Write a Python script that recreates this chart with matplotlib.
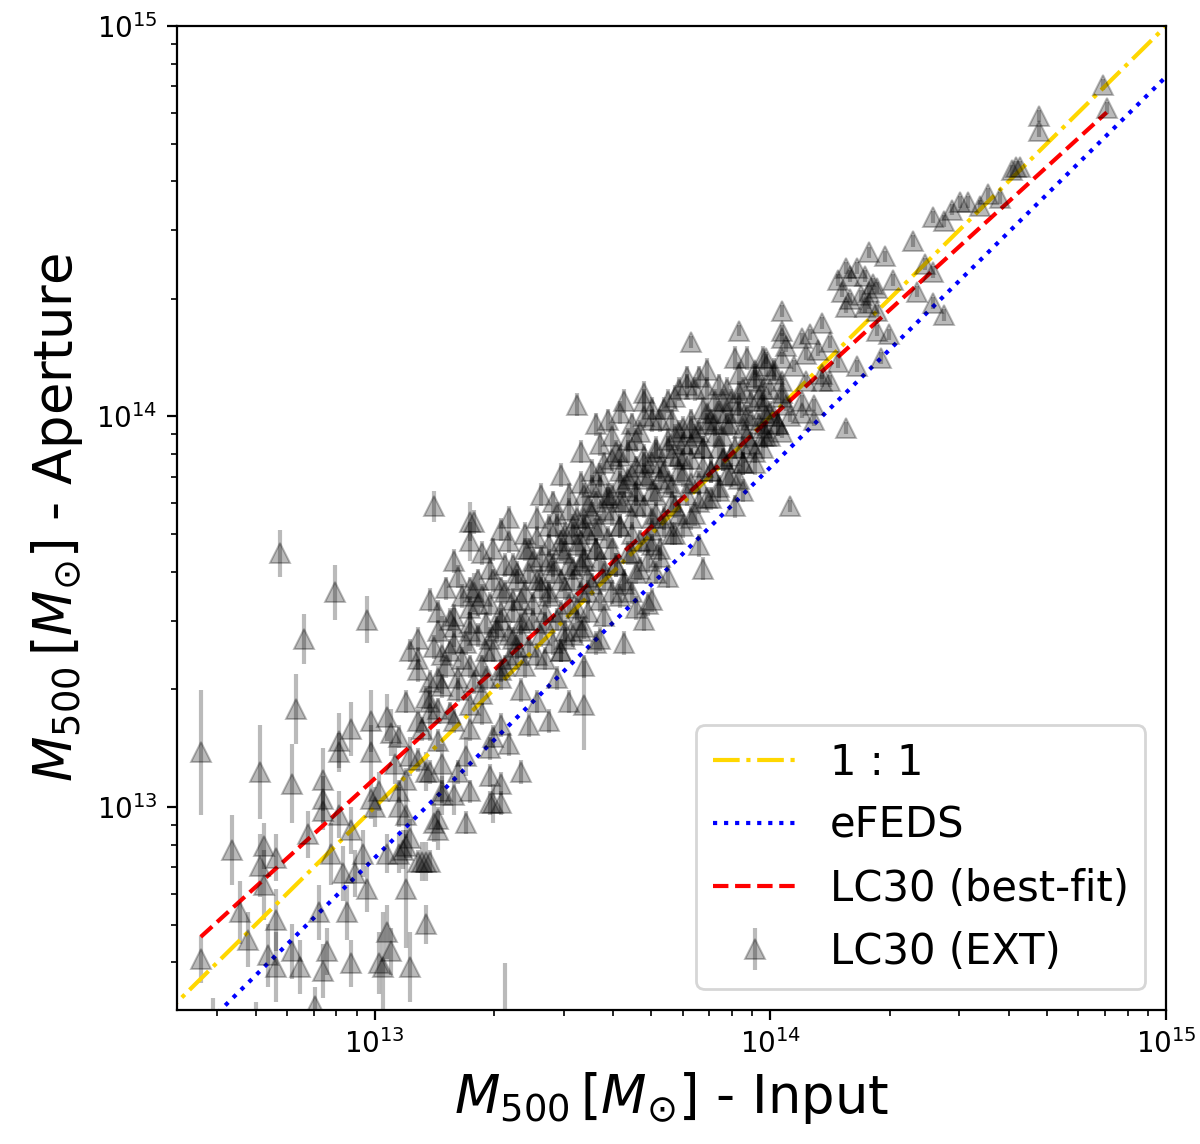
import numpy as np
import matplotlib
matplotlib.use('Agg')
from matplotlib import pyplot as plt

# log10 M500 values (Msun)
# massive end (upper right)
hi_in = [14.84, 14.85, 14.68, 14.68, 14.62, 14.63, 14.61, 14.55, 14.48, 14.50,
         14.46, 14.53, 14.58, 14.41, 14.44, 14.36, 14.25, 14.29, 14.19, 14.22,
         14.17, 14.20, 14.24, 14.26, 14.31, 14.18, 14.20, 14.23, 14.25, 14.27,
         14.24, 14.19, 14.27, 14.25, 14.39, 14.41, 14.37, 14.41, 14.44, 14.27,
         14.30, 14.28, 14.22, 14.03, 14.03, 14.08, 14.10, 14.13, 14.15, 14.09,
         14.12, 13.99, 14.03, 14.06, 14.17, 14.13, 14.15, 14.09, 13.96, 14.01,
         14.00, 14.03, 13.98, 14.11, 14.11, 14.08, 14.19, 13.95, 13.98, 14.00,
         14.05, 14.03, 14.01, 14.04, 14.08, 14.13, 14.04, 14.05, 14.03, 14.03,
         13.92, 13.80]
hi_ap = [14.85, 14.79, 14.77, 14.73, 14.64, 14.64, 14.63, 14.57, 14.55, 14.55,
         14.53, 14.54, 14.56, 14.51, 14.50, 14.45, 14.42, 14.41, 14.38, 14.38,
         14.35, 14.36, 14.36, 14.34, 14.35, 14.32, 14.30, 14.31, 14.32, 14.33,
         14.28, 14.28, 14.27, 14.29, 14.39, 14.37, 14.32, 14.29, 14.26, 14.22,
         14.21, 14.15, 14.13, 14.27, 14.20, 14.20, 14.21, 14.24, 14.19, 14.16,
         14.17, 14.15, 14.15, 14.13, 14.14, 14.11, 14.09, 14.09, 14.12, 14.11,
         14.07, 14.05, 14.04, 14.03, 13.99, 14.01, 13.97, 13.99, 13.97, 13.95,
         13.77, 13.96, 14.00, 14.03, 14.04, 14.09, 14.18, 14.00, 14.09, 14.22,
         14.22, 14.19]
hi_err = 0.015

# dense middle of the sample
core_in = [13.51, 13.63, 13.68, 13.68, 13.52, 13.77, 13.81, 13.84, 13.87, 13.91,
           13.94, 13.98, 13.83, 13.82, 13.74, 13.69, 13.68, 13.70, 13.98, 13.93,
           13.91, 13.66, 13.70, 13.25, 13.34, 13.41, 13.45, 13.21, 13.27, 13.34,
           13.39, 13.44, 13.57, 13.55, 13.60, 13.64, 13.66, 13.71, 13.75, 13.80,
           13.85, 13.89, 13.92, 13.97, 13.99, 13.93, 13.88, 13.83, 13.78, 13.73,
           13.68, 13.63, 13.59, 13.54, 13.51, 13.48, 13.44, 13.40, 13.36, 13.32,
           13.27, 13.24, 13.29, 13.66, 13.70, 13.75, 13.78, 13.83, 13.88, 13.93,
           13.98, 14.02, 13.92, 13.87, 13.82, 13.77, 13.73, 13.69, 13.65, 13.61,
           13.58, 13.54, 13.51, 13.47, 13.72, 13.57, 13.95, 13.62, 13.77, 13.90,
           13.47, 13.42, 13.71, 13.56, 13.62, 13.52, 13.32, 13.57, 13.67, 13.49,
           13.54, 13.20, 13.37, 13.42, 13.18, 13.14, 13.62, 13.63, 13.57, 13.56,
           13.24, 13.32, 13.37, 13.43, 13.48, 13.16, 13.11, 13.09, 13.20, 13.29,
           13.52, 13.53, 13.41, 13.24, 13.16, 13.11, 13.32, 13.37, 13.27, 13.46,
           13.08, 13.14, 13.21, 13.34, 13.49, 13.32, 13.30, 13.29, 13.34, 13.11,
           13.19, 13.24, 13.16, 13.39, 13.06, 13.44, 13.29, 13.32, 13.17, 13.29,
           13.32, 13.11, 13.21, 13.24, 13.08, 13.37, 13.14, 13.06, 13.23, 13.16,
           13.11, 13.14, 13.08]
core_ap = [14.03, 14.04, 14.04, 14.00, 13.91, 14.07, 14.07, 14.07, 14.08, 14.15,
           14.15, 14.15, 13.61, 13.67, 13.59, 13.52, 13.48, 13.67, 13.92, 13.81,
           13.77, 13.51, 13.53, 13.73, 13.74, 13.74, 13.78, 13.59, 13.65, 13.68,
           13.66, 13.63, 13.85, 13.82, 13.89, 13.91, 13.94, 13.92, 13.99, 13.97,
           13.99, 14.01, 14.03, 14.05, 14.00, 13.97, 13.95, 13.92, 13.89, 13.86,
           13.85, 13.82, 13.79, 13.77, 13.74, 13.70, 13.67, 13.63, 13.60, 13.56,
           13.54, 13.51, 13.61, 13.77, 13.81, 13.82, 13.85, 13.87, 13.89, 13.92,
           13.95, 13.98, 13.84, 13.81, 13.78, 13.75, 13.72, 13.68, 13.65, 13.62,
           13.58, 13.55, 13.51, 13.50, 13.99, 13.93, 13.93, 13.90, 13.90, 13.90,
           13.85, 13.80, 13.75, 13.71, 13.72, 13.68, 13.71, 13.63, 13.61, 13.62,
           13.59, 13.63, 13.53, 13.56, 13.56, 13.53, 13.54, 13.42, 13.43, 13.42,
           13.47, 13.48, 13.44, 13.47, 13.43, 13.45, 13.43, 13.40, 13.42, 13.43,
           13.45, 13.36, 13.27, 13.36, 13.33, 13.35, 13.35, 13.30, 13.29, 13.33,
           13.27, 13.27, 13.30, 13.38, 13.27, 13.21, 13.18, 13.15, 13.16, 13.22,
           13.24, 13.20, 13.17, 13.21, 13.18, 13.22, 13.08, 13.06, 13.04, 13.01,
           13.01, 13.12, 13.09, 13.04, 13.07, 13.09, 13.09, 13.04, 12.96, 12.97,
           12.86, 12.86, 12.90]
fill_in = [13.45, 13.47, 13.50, 13.53, 13.55, 13.58, 13.60, 13.62, 13.64, 13.66,
           13.68, 13.70, 13.72, 13.74, 13.76, 13.78, 13.80, 13.82, 13.84, 13.86,
           13.88, 13.90, 13.92, 13.94, 13.96, 13.60, 13.65, 13.70, 13.74, 13.79,
           13.84, 13.40, 13.42, 13.38, 13.35, 13.33, 13.31, 13.28, 13.36, 13.44,
           13.50, 13.53, 13.46, 13.49, 13.38, 13.30, 13.26, 13.22, 13.19, 13.26,
           13.22, 13.18, 13.14, 13.28, 13.43, 13.47, 13.58, 13.63, 13.72, 13.76,
           13.80, 13.85, 13.89, 13.96, 13.85, 13.80, 13.75, 13.70, 13.65, 13.60,
           13.56, 13.52, 13.48, 13.62, 13.57, 13.53, 13.66, 13.87, 13.93, 13.98]
fill_ap = [13.60, 13.66, 13.70, 13.72, 13.75, 13.76, 13.80, 13.78, 13.84, 13.87,
           13.90, 13.88, 13.84, 13.92, 13.95, 13.97, 13.93, 13.96, 14.01, 13.98,
           14.04, 13.98, 14.06, 14.00, 14.09, 13.95, 13.98, 14.02, 14.04, 14.10,
           14.12, 13.52, 13.58, 13.48, 13.50, 13.62, 13.45, 13.40, 13.41, 13.55,
           13.58, 13.64, 13.72, 13.76, 13.70, 13.66, 13.58, 13.54, 13.48, 13.44,
           13.38, 13.36, 13.32, 13.33, 13.38, 13.40, 13.49, 13.57, 13.64, 13.70,
           13.74, 13.79, 13.85, 13.88, 13.86, 13.83, 13.78, 13.74, 13.70, 13.66,
           13.66, 13.62, 13.56, 13.86, 13.82, 13.80, 13.80, 13.92, 13.88, 14.02]
# the blackened band along the relation, one row per input-mass strip
band_in = [13.30, 13.31, 13.29, 13.30, 13.32,
           13.33, 13.34, 13.32, 13.33, 13.35,
           13.36, 13.37, 13.35, 13.36, 13.38, 13.35,
           13.39, 13.40, 13.38, 13.39, 13.41, 13.38,
           13.42, 13.43, 13.41, 13.42, 13.44, 13.41,
           13.45, 13.46, 13.44, 13.45, 13.47, 13.46,
           13.48, 13.49, 13.47, 13.48, 13.50, 13.49, 13.47,
           13.51, 13.52, 13.50, 13.51, 13.53, 13.52, 13.50,
           13.54, 13.55, 13.53, 13.54, 13.56, 13.55, 13.53,
           13.57, 13.58, 13.56, 13.57, 13.59, 13.58, 13.56,
           13.60, 13.61, 13.59, 13.60, 13.62, 13.61, 13.59,
           13.63, 13.64, 13.62, 13.63, 13.65, 13.64, 13.62,
           13.66, 13.67, 13.65, 13.66, 13.68, 13.67, 13.65,
           13.69, 13.70, 13.68, 13.69, 13.71, 13.70, 13.68,
           13.72, 13.73, 13.71, 13.72, 13.74, 13.73, 13.71,
           13.75, 13.76, 13.74, 13.75, 13.77, 13.76,
           13.78, 13.79, 13.77, 13.78, 13.80, 13.79,
           13.81, 13.82, 13.80, 13.81, 13.83, 13.82,
           13.84, 13.85, 13.83, 13.84, 13.86,
           13.87, 13.88, 13.86, 13.87, 13.89,
           13.90, 13.91, 13.89, 13.90, 13.92,
           13.93, 13.94, 13.92, 13.93,
           13.96, 13.97, 13.95, 13.96,
           13.99, 14.00, 13.98, 13.99,
           14.02, 14.03, 14.01,
           13.12, 13.13, 13.11,
           13.16, 13.17, 13.15, 13.16,
           13.20, 13.21, 13.19, 13.20,
           13.24, 13.25, 13.23, 13.24,
           13.27, 13.28, 13.26, 13.27]
band_ap = [13.40, 13.46, 13.52, 13.58, 13.33,
           13.36, 13.44, 13.50, 13.55, 13.62,
           13.39, 13.47, 13.53, 13.58, 13.66, 13.43,
           13.41, 13.48, 13.55, 13.60, 13.69, 13.36,
           13.44, 13.50, 13.58, 13.64, 13.72, 13.39,
           13.42, 13.48, 13.54, 13.62, 13.68, 13.75,
           13.45, 13.52, 13.58, 13.65, 13.72, 13.80, 13.40,
           13.48, 13.55, 13.61, 13.67, 13.74, 13.83, 13.44,
           13.50, 13.57, 13.63, 13.70, 13.78, 13.86, 13.46,
           13.53, 13.60, 13.66, 13.72, 13.80, 13.88, 13.98,
           13.55, 13.62, 13.69, 13.75, 13.83, 13.91, 13.99,
           13.58, 13.65, 13.72, 13.78, 13.85, 13.94, 14.01,
           13.60, 13.68, 13.74, 13.81, 13.88, 13.96, 13.55,
           13.63, 13.71, 13.77, 13.84, 13.91, 13.99, 14.06,
           13.66, 13.74, 13.80, 13.87, 13.94, 14.02, 13.60,
           13.70, 13.77, 13.83, 13.90, 13.96, 14.05,
           13.72, 13.80, 13.86, 13.93, 13.99, 14.08,
           13.75, 13.83, 13.89, 13.95, 14.02, 14.10,
           13.79, 13.86, 13.92, 13.98, 14.04,
           13.82, 13.89, 13.95, 14.01, 14.07,
           13.85, 13.92, 13.98, 14.04, 14.11,
           13.88, 13.95, 14.01, 14.07,
           13.91, 13.98, 14.04, 14.10,
           13.95, 14.01, 14.07, 14.13,
           13.98, 14.06, 14.12,
           13.20, 13.28, 13.38,
           13.25, 13.31, 13.41, 13.50,
           13.22, 13.33, 13.40, 13.49,
           13.26, 13.32, 13.42, 13.56,
           13.36, 13.47, 13.52, 13.24]
core_err = 0.03

# low-mass tail and outliers, each with its own error (dex)
low_in = [13.15, 12.76, 12.90, 12.98, 12.82, 13.24, 13.24, 13.25, 13.20, 13.24,
          13.17, 12.80, 12.99, 13.03, 12.94, 12.91, 13.04, 13.14, 13.09, 12.99,
          12.56, 12.71, 12.79, 12.87, 12.87, 12.64, 12.72, 12.71, 12.75, 12.72,
          12.66, 12.83, 12.87, 12.91, 12.89, 12.94, 12.92, 12.95, 12.97, 12.98,
          12.86, 12.93, 12.75, 12.68, 12.56, 12.73, 12.79, 12.75, 12.81, 12.88,
          12.87, 12.94, 13.01, 13.03, 13.04, 13.09, 13.13, 13.00, 12.99, 13.01,
          13.06, 13.08, 13.08, 13.09, 13.07, 13.12, 13.15, 13.16, 13.17, 13.20,
          13.13, 13.17, 13.23, 12.91, 13.05, 13.02, 13.06, 13.03, 13.30, 13.13,
          12.85, 12.59, 12.70, 13.33, 13.53]
low_ap = [13.77, 13.65, 13.55, 13.48, 13.43, 13.73, 13.68, 13.55, 13.46, 13.45,
          13.39, 13.25, 13.22, 13.23, 13.20, 13.17, 13.19, 13.24, 13.13, 13.14,
          13.14, 13.09, 13.06, 13.07, 13.02, 12.89, 12.90, 12.85, 12.87, 12.80,
          12.73, 12.93, 12.99, 12.98, 12.88, 12.94, 12.83, 12.83, 12.88, 12.79,
          12.73, 12.73, 12.71, 12.66, 12.61, 12.62, 12.63, 12.59, 12.59, 12.63,
          12.58, 12.60, 12.60, 12.68, 12.63, 12.59, 12.70, 13.00, 13.02, 13.04,
          13.00, 12.98, 12.79, 12.92, 12.89, 12.86, 12.96, 12.94, 13.03, 13.03,
          13.09, 13.11, 13.13, 13.14, 13.11, 12.59, 12.88, 12.88, 13.01, 12.86,
          12.49, 12.43, 12.40, 12.40, 13.26]
low_err = [0.04, 0.06, 0.07, 0.06, 0.065, 0.05, 0.05, 0.05, 0.05, 0.05,
           0.10, 0.09, 0.08, 0.06, 0.07, 0.07, 0.06, 0.07, 0.05, 0.07,
           0.16, 0.12, 0.10, 0.08, 0.06, 0.09, 0.06, 0.08, 0.06, 0.09,
           0.08, 0.06, 0.05, 0.06, 0.08, 0.06, 0.07, 0.06, 0.06, 0.06,
           0.07, 0.07, 0.08, 0.07, 0.06, 0.08, 0.07, 0.09, 0.07, 0.06,
           0.07, 0.06, 0.08, 0.07, 0.06, 0.09, 0.05, 0.05, 0.05, 0.05,
           0.05, 0.06, 0.15, 0.05, 0.05, 0.05, 0.05, 0.05, 0.05, 0.05,
           0.05, 0.05, 0.05, 0.05, 0.05, 0.14, 0.05, 0.05, 0.05, 0.05,
           0.05, 0.08, 0.10, 0.20, 0.115]

# scaling relations: log M_ap = norm + slope * (log M_in - 14)
fit_norm, fit_slope = 13.995, 0.922
efeds_norm, efeds_slope = 13.87, 1.0

lx = np.concatenate([hi_in, core_in, fill_in, band_in, low_in])
ly = np.concatenate([hi_ap, core_ap, fill_ap, band_ap, low_ap])
le = np.concatenate([np.full(len(hi_in), hi_err),
                     np.full(len(core_in) + len(fill_in) + len(band_in), core_err),
                     low_err])
x = 10 ** lx
y = 10 ** ly
yerr = [y - y * 10 ** (-le), y * 10 ** le - y]

fig = plt.figure(figsize=(6, 5.72), dpi=200)
ax = fig.add_axes([0.1475, 0.1171, 0.8242, 0.8602])

ax.errorbar(x, y, yerr=yerr, fmt='^', ms=7, mew=0.7, color='k', alpha=0.27,
            label='LC30 (EXT)')

xx = np.logspace(12, 16, 100)
ax.plot(xx, xx, '-.', color='gold', label='1 : 1')
ax.plot(xx, 10 ** (efeds_norm + efeds_slope * (np.log10(xx) - 14)), ':',
        color='blue', label='eFEDS')
xf = np.logspace(lx.min(), lx.max(), 100)
ax.plot(xf, 10 ** (fit_norm + fit_slope * (np.log10(xf) - 14)), '--',
        color='red', label='LC30 (best-fit)')

ax.set_xscale('log')
ax.set_yscale('log')
ax.set_xlim(10 ** 12.5, 1e15)
ax.set_ylim(10 ** 12.48, 1e15)

ax.set_xlabel(r'$M_{500}\,[M_{\odot}]$ - Input', fontsize=19)
ax.set_ylabel(r'$M_{500}\,[M_{\odot}]$ - Aperture', fontsize=19)
ax.legend(loc='lower right', fontsize=15)

fig.savefig('out.png')
